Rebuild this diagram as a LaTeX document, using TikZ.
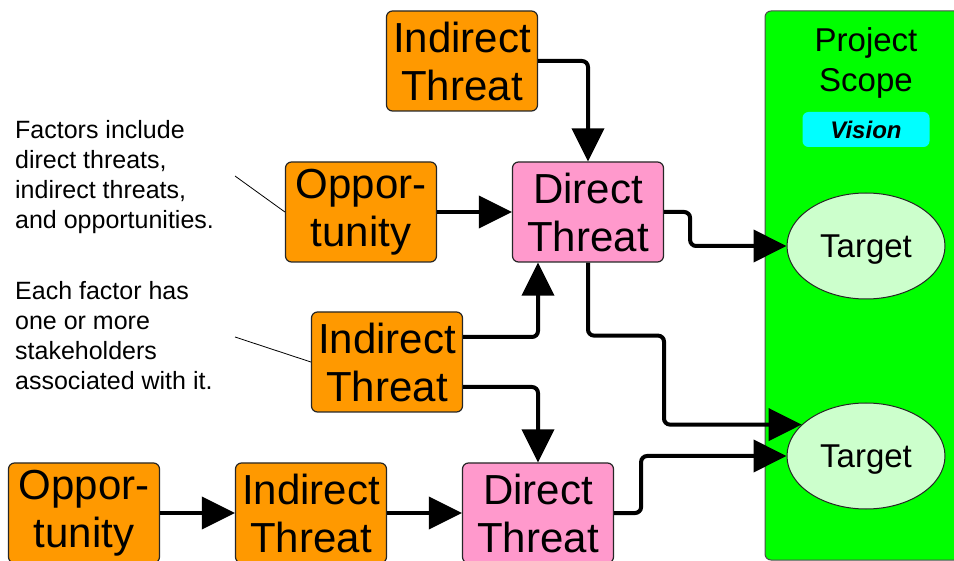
\documentclass[tikz,border=0pt]{standalone}
\usepackage{fontspec}
\setmainfont{Liberation Sans}
\usepackage{tikz}
\usetikzlibrary{arrows.meta,shapes.geometric}
\definecolor{factororange}{HTML}{FF9900}
\definecolor{threatpink}{HTML}{FF99CC}
\definecolor{scopegreen}{HTML}{00FF00}
\definecolor{targetgreen}{HTML}{CCFFCC}
\definecolor{visioncyan}{HTML}{00FFFF}

\begin{document}
\begin{tikzpicture}[x=1pt,y=-1pt,
    factor/.style={draw=black!85, line width=1.2pt, rounded corners=6pt,
      minimum width=151pt, minimum height=100pt, inner sep=0pt, align=center,
      font=\fontsize{42}{48}\selectfont},
    opp/.style={factor, fill=factororange},
    indirect/.style={factor, fill=factororange},
    direct/.style={factor, fill=threatpink},
    target/.style={ellipse, draw=black!85, line width=1pt, fill=targetgreen,
      minimum width=158pt, minimum height=106pt, inner sep=0pt, text depth=0pt,
      font=\fontsize{33}{40}\selectfont},
    note/.style={anchor=north west, inner sep=0pt, align=left,
      font=\fontsize{25}{30}\selectfont},
    link/.style={line width=4pt, rounded corners=6pt,
      -{Triangle[length=33pt,width=32pt]}},
    pointer/.style={line width=0.8pt}]
      \useasboundingbox (0,0) rectangle (954,561);
      \clip (0,0) rectangle (954,561);
      \fill[scopegreen, rounded corners=6pt] (765,11) rectangle (990,560);
      \draw[draw=black!70, line width=1pt, rounded corners=6pt] (990,11) -| (765,560) -- (990,560);
      \node[align=center, font=\fontsize{33}{40}\selectfont] (scope) at (866,63) {Project\\Scope};
      \node[fill=visioncyan, rounded corners=6pt, minimum width=127pt, minimum height=35pt, inner sep=0pt,
        font=\fontsize{24}{28}\selectfont\bfseries\itshape] (vision) at (866,129.5) {Vision};
      \node[target] (tgt1) at (866,246) {Target};
      \node[target] (tgt2) at (866,456) {Target};
      \node[indirect] (ind1) at (462,61) {Indirect\\Threat};
      \node[opp] (opp1) at (361,212) {Oppor-\\tunity};
      \node[direct] (dir1) at (588,212) {Direct\\Threat};
      \node[indirect] (ind2) at (387,362) {Indirect\\Threat};
      \node[opp] (opp2) at (84,513) {Oppor-\\tunity};
      \node[indirect] (ind3) at (311,513) {Indirect\\Threat};
      \node[direct] (dir2) at (538,513) {Direct\\Threat};
      \node[note] (note1) at (15,120) {Factors include\\direct threats,\\indirect threats,\\and opportunities.};
      \node[note] (note2) at (15,281) {Each factor has\\one or more\\stakeholders\\associated with it.};
      \coordinate (n1) at (235,176);
      \coordinate (n2) at (235,337);
      \draw[pointer] (n1) -- (opp1.west);
      \draw[pointer] (n2) -- (ind2.west);
      \draw[link] (ind1.east) -| (dir1.north);
      \draw[link] (opp1.east) -- (dir1.west);
      \draw[link] (dir1.east) -- ++(26,0) |- (tgt1.west);
      \draw[link] (dir1.south) |- ++(76,73) |- (tgt2.154);
      \draw[link] ([yshift=25pt]ind2.east) -| ([xshift=-50pt]dir1.south);
      \draw[link] ([yshift=-25pt]ind2.east) -| (dir2.north);
      \draw[link] (opp2.east) -- (ind3.west);
      \draw[link] (ind3.east) -- (dir2.west);
      \draw[link] (dir2.east) -- ++(27,0) |- (tgt2.west);
\end{tikzpicture}
\end{document}
